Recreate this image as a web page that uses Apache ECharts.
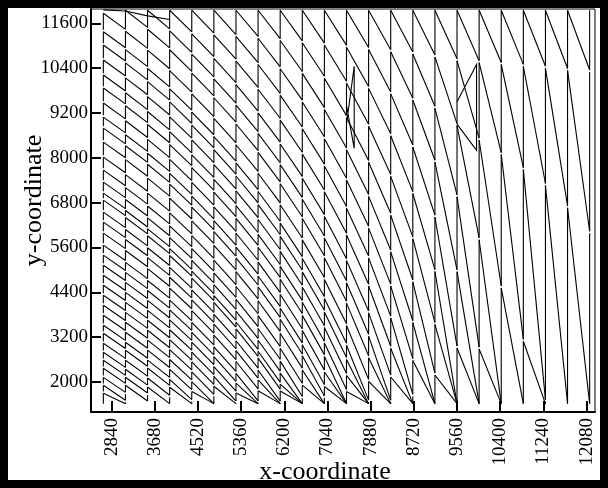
<!DOCTYPE html>
<html>
<head>
<meta charset="utf-8">
<script src="https://cdn.jsdelivr.net/npm/echarts@6/dist/echarts.min.js"></script>
<style>
html,body{margin:0;padding:0;background:#fff;}
#chart{position:absolute;left:0;top:0;width:608px;height:488px;}
#frame{position:absolute;left:0;top:0;width:608px;height:488px;box-sizing:border-box;border:8px solid #000;pointer-events:none;}
</style>
</head>
<body>
<div id="chart"></div>
<div id="frame"></div>
<script>
// x positions of the point columns
const columnX = [2680, 3110, 3540, 3970, 4400, 4830, 5260, 5690, 6120, 6550, 6980, 7410,
                 7840, 8270, 8700, 9130, 9560, 9990, 10420, 10850, 11280, 11710, 12140];
const xTicks = [2840, 3680, 4520, 5360, 6200, 7040, 7880, 8720, 9560, 10400, 11240, 12080];
const yTicks = [2000, 3200, 4400, 5600, 6800, 8000, 9200, 10400, 11600];

const yTop = 11950;      // highest point of every column
const yFloor = 1420;     // lowest point of every column
const runGap = 50;       // break left just below each arriving edge
const lowestStart = 1700; // no edge leaves a column below this height

// top edge connecting the first four columns
const roofY = [11960, 11930, 11800, 11700];

// heights where edges leave the first column
const firstColumnStarts = [11868, 11375, 11019, 10617, 10215, 9867, 9465, 9090, 8795, 8420, 8018,
  7670, 7350, 7055, 6867, 6546, 6278, 5983, 5662, 5394, 5126, 4858, 4590, 4322, 4054, 3786,
  3518, 3303, 3035, 2794, 2580, 2366, 2124, 1910, 1696];

// drop of the edges in each gap, for an edge leaving at the top and one leaving at the bottom
const dropAtTop = [430, 460, 500, 580, 610, 650, 700, 760, 820, 880, 940, 1000, 1060, 1120,
  1200, 1300, 1350, 1400, 1450, 1500, 1560, 1600];
const dropAtBottom = [400, 420, 460, 540, 600, 660, 740, 840, 960, 1100, 1300, 1550, 1850, 2300,
  3000, 5400, 7000, 9000, 11000, 13000, 16000, 19300];

// short extra columns with zig-zag edges in the upper middle
const extraPaths = [
  [[7410, 8900], [7560, 10450], [7560, 8250], [7410, 9400]],
  [[9560, 9500], [9940, 10500], [9940, 8200], [9560, 8900]]
];

const segs = [];
segs.push(roofY.map((y, i) => [columnX[i], y]));
extraPaths.forEach(p => segs.push(p));

const span = yTop - yFloor;
let starts = firstColumnStarts.slice();
for (let i = 0; i < starts.length; i++) {
  const lo = i + 1 < starts.length ? starts[i + 1] + runGap : yFloor;
  segs.push([[columnX[0], starts[i]], [columnX[0], lo]]);
}
for (let g = 0; g < dropAtTop.length; g++) {
  const x0 = columnX[g], x1 = columnX[g + 1];
  const ends = [];
  starts.forEach(s => {
    const t = (yTop - s) / span;
    const drop = dropAtTop[g] + (dropAtBottom[g] - dropAtTop[g]) * t;
    const e = Math.max(yFloor, s - drop);
    segs.push([[x0, s], [x1, e]]);
    if (!ends.includes(e)) ends.push(e);
  });
  ends.sort((a, b) => b - a);
  const next = [yTop];
  ends.forEach((e, i) => {
    const up = i === 0 ? yTop : ends[i - 1] - runGap;
    if (up > e) segs.push([[x1, e], [x1, up]]);
    if (e - runGap > lowestStart) next.push(e - runGap);
  });
  if (g === dropAtTop.length - 1 && ends[ends.length - 1] > yFloor) {
    segs.push([[x1, ends[ends.length - 1] - runGap], [x1, yFloor]]);
  }
  starts = next;
}

const chart = echarts.init(document.getElementById('chart'), null, {renderer: 'canvas'});
const serif = 'Liberation Serif, Times New Roman, serif';
const plain = v => String(v);
chart.setOption({
  animation: false,
  backgroundColor: '#fff',
  grid: {left: 91, right: 13, top: 9, bottom: 76, outerBoundsMode: 'none', containLabel: false,
         show: true, borderColor: '#000', borderWidth: 1},
  xAxis: {
    type: 'value', min: 2440, max: 12244,
    name: 'x-coordinate', nameLocation: 'middle', nameGap: 47, nameMoveOverlap: false,
    nameTextStyle: {fontFamily: serif, fontSize: 26, color: '#000', padding: [0, 36, 0, 0]},
    axisLine: {show: true, lineStyle: {color: '#000', width: 2}},
    axisTick: {show: true, inside: true, length: 11, lineStyle: {color: '#000', width: 2}, customValues: xTicks},
    axisLabel: {rotate: 90, margin: 6, fontFamily: serif, fontSize: 19, color: '#000', customValues: xTicks, formatter: plain},
    splitLine: {show: false}
  },
  yAxis: {
    type: 'value', min: 1196, max: 11983,
    name: 'y-coordinate', nameLocation: 'middle', nameGap: 44, nameMoveOverlap: false,
    nameTextStyle: {fontFamily: serif, fontSize: 26, color: '#000', padding: [0, 0, 0, 20]},
    axisLine: {show: true, lineStyle: {color: '#000', width: 2}},
    axisTick: {show: true, inside: true, length: 10, lineStyle: {color: '#000', width: 2}, customValues: yTicks},
    axisLabel: {margin: 3, fontFamily: serif, fontSize: 19, color: '#000', customValues: yTicks, formatter: plain},
    splitLine: {show: false}
  },
  series: [{
    type: 'lines', coordinateSystem: 'cartesian2d', polyline: true, silent: true,
    lineStyle: {color: '#000', width: 1.1, opacity: 1},
    data: segs.map(c => ({coords: c}))
  }]
});
</script>
</body>
</html>
